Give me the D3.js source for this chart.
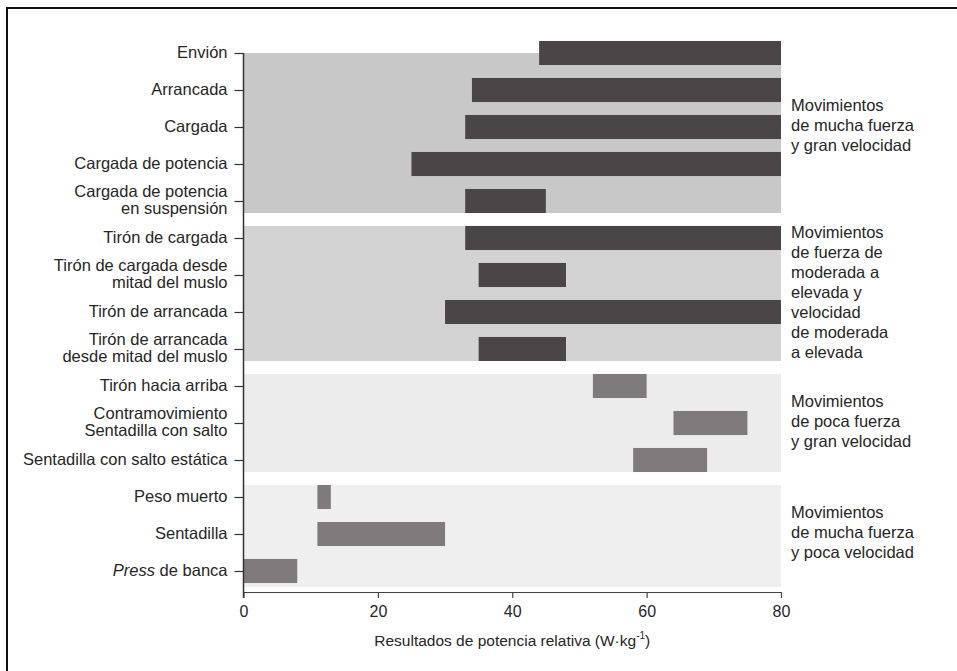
<!DOCTYPE html>
<html>
<head>
<meta charset="utf-8">
<script src="https://cdn.jsdelivr.net/npm/d3@7"></script>
<style>
  body { margin: 0; background: #fff; }
  text { font-family: "Liberation Sans", Arial, sans-serif; }
</style>
</head>
<body>
<div id="chart"></div>
<script>
// data
var categories = [
  "Envión", "Arrancada", "Cargada", "Cargada de potencia",
  "Cargada de potencia|en suspensión", "Tirón de cargada",
  "Tirón de cargada desde|mitad del muslo", "Tirón de arrancada",
  "Tirón de arrancada|desde mitad del muslo", "Tirón hacia arriba",
  "Contramovimiento|Sentadilla con salto", "Sentadilla con salto estática",
  "Peso muerto", "Sentadilla", "*Press de banca"
];
var barStart = [44, 34, 33, 25, 33, 33, 35, 30, 35, 52, 64, 58, 11, 11, 0];
var barEnd   = [80, 80, 80, 80, 45, 80, 48, 80, 48, 60, 75, 69, 13, 30, 8];
var barGroup = [0, 0, 0, 0, 0, 1, 1, 1, 1, 2, 2, 2, 3, 3, 3];
var groupLabels = [
  ["Movimientos", "de mucha fuerza", "y gran velocidad"],
  ["Movimientos", "de fuerza de", "moderada a", "elevada y", "velocidad", "de moderada", "a elevada"],
  ["Movimientos", "de poca fuerza", "y gran velocidad"],
  ["Movimientos", "de mucha fuerza", "y poca velocidad"]
];
var xTicks = [0, 20, 40, 60, 80];
var xTitle = "Resultados de potencia relativa (W·kg";

var W = 957, H = 671;
var bandFill = ["#c8c8c8", "#d3d3d3", "#ececec", "#efefef"];
var barFill = ["#4a4648", "#4a4648", "#7f7b7d", "#7f7b7d"];

var svg = d3.select("#chart").append("svg")
  .attr("width", W).attr("height", H);

// frame (cut off at right and bottom like the scan)
svg.append("rect")
  .attr("x", 7).attr("y", 8)
  .attr("width", W + 10).attr("height", H + 10)
  .attr("fill", "none").attr("stroke", "#111").attr("stroke-width", 2);

var x = d3.scaleLinear().domain([0, 80]).range([243.5, 781]);
var y = d3.scalePoint().domain(d3.range(categories.length)).range([53, 571]);
var bh = y.step() * 0.65;
var axisY = 592;

// group background bands
d3.range(groupLabels.length).forEach(function(g) {
  var idx = d3.range(categories.length).filter(function(i) { return barGroup[i] === g; });
  var top = g === 0 ? y(idx[0]) : y(idx[0]) - bh / 2;
  var bottom = y(idx[idx.length - 1]) + bh / 2 + (g === 3 ? 4 : 0);
  svg.append("rect")
    .attr("x", x(0)).attr("y", top)
    .attr("width", x(80) - x(0)).attr("height", bottom - top)
    .attr("fill", bandFill[g]);

  var lines = groupLabels[g];
  var mid = (y(idx[0]) + y(idx[idx.length - 1])) / 2;
  var t = svg.append("text")
    .attr("x", 791)
    .attr("y", mid - (lines.length - 1) * 10)
    .attr("font-size", 16.5)
    .attr("fill", "#262626")
    .attr("dominant-baseline", "middle");
  lines.forEach(function(l, k) {
    t.append("tspan").attr("x", 791).attr("dy", k === 0 ? 0 : 20).text(l);
  });
});

// bars
svg.selectAll("rect.bar")
  .data(d3.range(categories.length))
  .enter().append("rect")
  .attr("class", "bar")
  .attr("x", function(i) { return x(barStart[i]); })
  .attr("y", function(i) { return y(i) - bh / 2; })
  .attr("width", function(i) { return x(barEnd[i]) - x(barStart[i]); })
  .attr("height", bh)
  .attr("fill", function(i) { return barFill[barGroup[i]]; });

// y axis
var yAxis = svg.append("g")
  .attr("transform", "translate(" + x(0) + ",0)")
  .call(d3.axisLeft(y).tickSize(9).tickPadding(8).tickFormat(""));
yAxis.select(".domain").remove();
yAxis.selectAll(".tick line").attr("stroke", "#333").attr("stroke-width", 1.2);
svg.append("line")
  .attr("x1", x(0)).attr("x2", x(0))
  .attr("y1", y(0)).attr("y2", axisY + 6)
  .attr("stroke", "#333").attr("stroke-width", 1.5);

yAxis.selectAll(".tick").each(function(i) {
  var g = d3.select(this);
  var parts = categories[i].split("|");
  var t = g.append("text")
    .attr("x", -16)
    .attr("fill", "#262626")
    .attr("font-size", 16.5)
    .attr("text-anchor", "end")
    .attr("dominant-baseline", "middle")
    .attr("y", -(parts.length - 1) * 8.5);
  parts.forEach(function(p, k) {
    var ts = t.append("tspan").attr("x", -16).attr("dy", k === 0 ? 0 : 17);
    if (p.charAt(0) === "*") {
      var words = p.slice(1).split(" ");
      ts.append("tspan").attr("font-style", "italic").text(words[0]);
      ts.append("tspan").text(" " + words.slice(1).join(" "));
    } else {
      ts.text(p);
    }
  });
});

// x axis
var xAxis = svg.append("g")
  .attr("transform", "translate(0," + axisY + ")")
  .call(d3.axisBottom(x).tickValues(xTicks).tickSize(6).tickSizeOuter(0).tickPadding(8));
xAxis.select(".domain").attr("stroke", "#444").attr("stroke-width", 1.2);
xAxis.selectAll(".tick line").attr("stroke", "#444").attr("stroke-width", 1.2);
xAxis.selectAll(".tick text")
  .attr("font-size", 16)
  .attr("fill", "#262626")
  .attr("font-family", "Liberation Sans, Arial, sans-serif");

var xt = svg.append("text")
  .attr("x", (x(0) + x(80)) / 2)
  .attr("y", 646)
  .attr("text-anchor", "middle")
  .attr("font-size", 15.5)
  .attr("fill", "#262626")
  .text(xTitle);
xt.append("tspan").attr("font-size", 10).attr("dy", -7).text("-1");
xt.append("tspan").attr("dy", 7).text(")");
</script>
</body>
</html>
